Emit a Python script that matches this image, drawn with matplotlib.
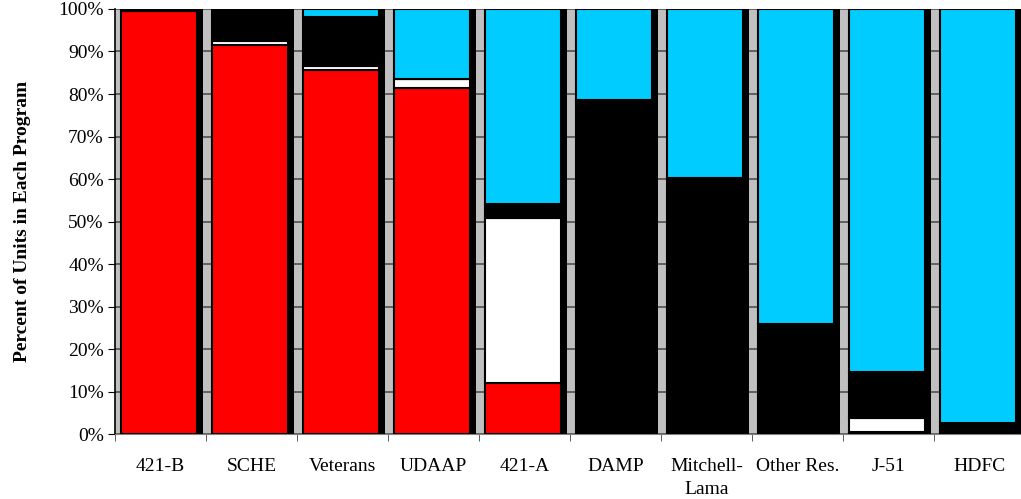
import numpy as np
import matplotlib.pyplot as plt
from matplotlib.ticker import FuncFormatter

# programs and share of units (percent), stacked bottom to top
programs = ['421-B', 'SCHE', 'Veterans', 'UDAAP', '421-A', 'DAMP',
            'Mitchell-\nLama', 'Other Res.', 'J-51', 'HDFC']
red = [99.6, 91.5, 85.6, 81.3, 12.0, 0, 0, 0, 0.4, 0]
white = [0, 1.0, 0.9, 2.3, 38.8, 0, 0, 0, 3.4, 0]
black = [0.4, 7.5, 11.6, 0, 3.3, 78.6, 60.2, 25.9, 10.8, 2.6]
cyan = [0, 0, 1.9, 16.4, 45.9, 21.4, 39.8, 74.1, 85.4, 97.4]

series = [(red, '#FF0000'), (white, '#FFFFFF'), (black, '#000000'), (cyan, '#00CCFF')]

plt.rcParams['font.family'] = 'Liberation Serif'

fig = plt.figure(figsize=(10.21, 4.99), dpi=100)
ax = fig.add_axes([0.1126, 0.130, 0.8913, 0.852])
ax.set_facecolor('#C0C0C0')

x = np.arange(len(programs))
w = 0.835
off = 0.066

# 3d depth side behind each bar
ax.bar(x + off + 0.066, [100] * len(x), width=w, align='edge', color='black', zorder=2)

bottom = np.zeros(len(x))
for vals, col in series:
    vals = np.array(vals)
    ax.bar(x + off, vals, width=w, bottom=bottom, align='edge', color=col,
           edgecolor='black', linewidth=1.5, zorder=3)
    bottom += vals

ax.set_xlim(0, 10)
ax.set_ylim(0, 100)
ax.set_yticks(np.arange(0, 101, 10))
ax.yaxis.set_major_formatter(FuncFormatter(lambda v, p: f'{int(v)}%'))
ax.yaxis.grid(True, color='#505050', linewidth=1.2, zorder=1)
ax.set_axisbelow(True)

ax.set_xticks(np.arange(0, 11), minor=True)
ax.set_xticks(x + 0.5)
ax.set_xticklabels(programs, fontsize=14, linespacing=1.45)
ax.tick_params(axis='x', which='major', length=0, pad=17)
ax.tick_params(axis='x', which='minor', length=5, color='#404040')
ax.tick_params(axis='y', length=5, labelsize=14, pad=3)

for s in ['top', 'right']:
    ax.spines[s].set_visible(False)
ax.spines['bottom'].set_color('#808080')
ax.spines['left'].set_linewidth(1.2)

ax.set_ylabel('Percent of Units in Each Program', fontsize=14, fontweight='bold', labelpad=20)

fig.savefig('out.png', dpi=100)
